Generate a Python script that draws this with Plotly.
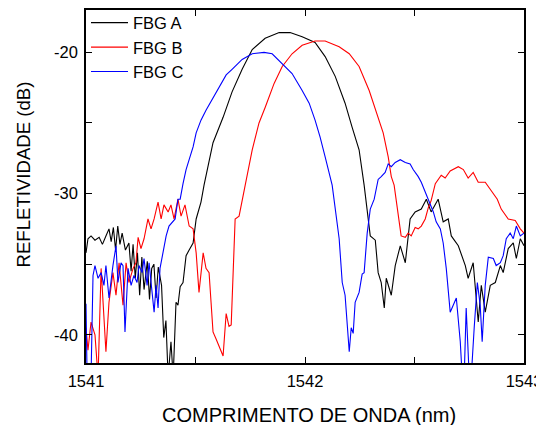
import plotly.graph_objects as go

# ---- data (wavelength in nm, reflectivity in dB) ----
wl_a = [1541.000, 1541.009, 1541.023, 1541.041, 1541.060, 1541.075, 1541.091, 1541.105, 1541.115, 1541.125,
        1541.135, 1541.145, 1541.155, 1541.165, 1541.180, 1541.196, 1541.206, 1541.215, 1541.225, 1541.235,
        1541.245, 1541.255, 1541.265, 1541.280, 1541.290, 1541.300, 1541.310, 1541.320, 1541.330, 1541.345,
        1541.355, 1541.365, 1541.375, 1541.388, 1541.398, 1541.411, 1541.420, 1541.430, 1541.443, 1541.457,
        1541.471, 1541.489, 1541.503, 1541.525, 1541.539, 1541.580, 1541.626, 1541.667, 1541.713, 1541.759,
        1541.818, 1541.882, 1541.932, 1541.987, 1542.046, 1542.092, 1542.138, 1542.183, 1542.215, 1542.247,
        1542.270, 1542.298, 1542.321, 1542.334, 1542.348, 1542.362, 1542.371, 1542.394, 1542.412, 1542.435,
        1542.458, 1542.480, 1542.503, 1542.531, 1542.554, 1542.576, 1542.608, 1542.631, 1542.654, 1542.668,
        1542.700, 1542.732, 1542.745, 1542.768, 1542.791, 1542.805, 1542.823, 1542.846, 1542.869, 1542.892,
        1542.905, 1542.928, 1542.951, 1542.965, 1542.983, 1543.000]
db_a = [-34.2, -33.2, -33.0, -33.3, -33.1, -33.6, -33.0, -32.5, -33.4, -32.4,
        -34.0, -32.3, -33.6, -32.8, -34.0, -33.5, -35.5, -33.6, -36.0, -34.2,
        -37.2, -34.5, -36.8, -34.8, -37.5, -35.3, -35.0, -37.4, -35.2, -36.5,
        -40.2, -39.0, -43.0, -40.5, -43.0, -37.7, -37.9, -36.6, -36.3, -34.4,
        -34.0, -33.5, -31.8, -30.6, -29.4, -26.4, -24.6, -22.8, -21.2, -19.8,
        -19.0, -18.6, -18.6, -18.9, -19.3, -20.3, -21.7, -23.6, -25.3, -26.9,
        -29.4, -33.0, -33.3, -35.6, -36.3, -38.1, -36.0, -37.2, -35.1, -33.7,
        -34.9, -31.8, -31.3, -31.1, -30.4, -31.3, -30.4, -32.0, -31.8, -33.0,
        -33.7, -35.1, -36.0, -34.9, -39.1, -36.5, -38.4, -36.5, -36.3, -35.1,
        -35.6, -33.9, -33.5, -34.6, -33.2, -33.7]

wl_b = [1541.000, 1541.009, 1541.023, 1541.041, 1541.055, 1541.069, 1541.091, 1541.105, 1541.123, 1541.137,
        1541.151, 1541.169, 1541.183, 1541.196, 1541.215, 1541.228, 1541.238, 1541.251, 1541.265, 1541.283,
        1541.297, 1541.311, 1541.329, 1541.343, 1541.356, 1541.375, 1541.388, 1541.402, 1541.420, 1541.434,
        1541.452, 1541.471, 1541.489, 1541.503, 1541.516, 1541.535, 1541.548, 1541.562, 1541.571, 1541.580,
        1541.594, 1541.608, 1541.626, 1541.640, 1541.653, 1541.663, 1541.672, 1541.681, 1541.699, 1541.713,
        1541.727, 1541.759, 1541.790, 1541.818, 1541.859, 1541.896, 1541.941, 1541.987, 1542.046, 1542.092,
        1542.156, 1542.202, 1542.247, 1542.293, 1542.334, 1542.357, 1542.380, 1542.394, 1542.407, 1542.426,
        1542.439, 1542.458, 1542.471, 1542.485, 1542.503, 1542.517, 1542.531, 1542.549, 1542.563, 1542.576,
        1542.595, 1542.622, 1542.640, 1542.663, 1542.700, 1542.723, 1542.745, 1542.768, 1542.791, 1542.823,
        1542.855, 1542.878, 1542.896, 1542.928, 1542.960, 1542.983, 1543.000]
db_b = [-39.5, -41.1, -39.1, -40.0, -43.0, -35.3, -41.2, -37.7, -35.6, -37.2,
        -34.9, -37.9, -34.9, -36.3, -35.3, -34.9, -33.1, -33.9, -33.2, -31.8,
        -32.5, -31.8, -30.6, -31.8, -30.8, -31.3, -30.8, -31.8, -30.4, -31.6,
        -30.8, -32.3, -32.5, -34.2, -37.0, -34.2, -35.3, -35.6, -37.7, -39.8,
        -40.3, -40.8, -41.5, -38.5, -39.4, -39.3, -36.0, -31.8, -31.6, -30.6,
        -29.4, -26.9, -25.0, -23.9, -22.2, -21.0, -20.1, -19.5, -19.2, -19.2,
        -19.6, -20.1, -21.0, -22.7, -24.6, -25.7, -27.4, -28.8, -29.4, -31.6,
        -33.0, -33.1, -32.8, -33.0, -32.4, -32.5, -32.3, -31.8, -31.0, -30.5,
        -29.3, -28.7, -28.9, -28.4, -28.1, -28.3, -28.9, -28.5, -29.2, -29.2,
        -29.9, -30.4, -31.1, -31.8, -31.9, -32.5, -32.8]

wl_c = [1541.000, 1541.005, 1541.023, 1541.032, 1541.041, 1541.055, 1541.069, 1541.082, 1541.091, 1541.105,
        1541.123, 1541.137, 1541.146, 1541.160, 1541.169, 1541.178, 1541.192, 1541.206, 1541.219, 1541.233,
        1541.242, 1541.256, 1541.265, 1541.279, 1541.288, 1541.302, 1541.311, 1541.320, 1541.329, 1541.338,
        1541.352, 1541.366, 1541.379, 1541.398, 1541.407, 1541.420, 1541.430, 1541.443, 1541.457, 1541.471,
        1541.489, 1541.503, 1541.525, 1541.548, 1541.580, 1541.608, 1541.640, 1541.667, 1541.713, 1541.759,
        1541.813, 1541.850, 1541.896, 1541.941, 1541.987, 1542.019, 1542.046, 1542.069, 1542.092, 1542.110,
        1542.124, 1542.156, 1542.170, 1542.183, 1542.202, 1542.211, 1542.220, 1542.229, 1542.247, 1542.261,
        1542.270, 1542.284, 1542.298, 1542.316, 1542.334, 1542.348, 1542.366, 1542.380, 1542.394, 1542.412,
        1542.435, 1542.458, 1542.480, 1542.494, 1542.517, 1542.531, 1542.563, 1542.586, 1542.599, 1542.618,
        1542.631, 1542.645, 1542.663, 1542.677, 1542.691, 1542.709, 1542.718, 1542.727, 1542.736, 1542.750,
        1542.759, 1542.773, 1542.787, 1542.800, 1542.809, 1542.823, 1542.837, 1542.860, 1542.873, 1542.892,
        1542.905, 1542.919, 1542.937, 1542.951, 1542.965, 1542.983, 1543.000]
db_c = [-37.8, -43.0, -43.0, -35.8, -35.1, -36.0, -35.6, -36.5, -35.1, -37.4,
        -35.1, -33.7, -36.3, -34.9, -35.1, -39.8, -35.3, -36.5, -35.8, -36.3,
        -35.1, -35.6, -34.6, -36.5, -34.9, -37.0, -38.4, -36.5, -38.1, -35.3,
        -34.2, -33.0, -32.3, -32.0, -31.8, -30.4, -30.4, -29.3, -28.3, -27.6,
        -26.7, -25.7, -24.8, -24.1, -23.2, -22.5, -21.6, -21.2, -20.5, -20.1,
        -20.0, -20.1, -20.8, -21.5, -22.7, -23.6, -24.8, -26.0, -27.4, -28.5,
        -29.4, -33.2, -36.3, -37.2, -41.2, -39.5, -39.9, -37.7, -37.0, -35.7,
        -35.6, -32.8, -31.1, -30.4, -29.0, -28.8, -28.5, -27.9, -28.1, -27.8,
        -27.6, -27.8, -27.9, -28.3, -28.8, -29.2, -30.4, -31.3, -32.0, -32.5,
        -33.5, -35.3, -38.4, -37.9, -37.4, -40.5, -43.0, -43.0, -38.1, -43.0,
        -43.0, -39.4, -36.3, -37.9, -40.5, -36.5, -34.5, -34.6, -35.1, -34.9,
        -34.4, -33.2, -32.8, -33.2, -32.3, -33.0, -32.8]

names = ["FBG A", "FBG B", "FBG C"]
colors = ["#000000", "#ff0000", "#0000ff"]

x_ticks = [1541, 1542, 1543]
y_ticks = [-40, -30, -20]
x_title = "COMPRIMENTO DE ONDA (nm)"
y_title = "REFLETIVIDADE (dB)"

font_family = "Arial, Liberation Sans, sans-serif"

fig = go.Figure()
for wl, db, name, col in zip([wl_a, wl_b, wl_c], [db_a, db_b, db_c], names, colors):
    fig.add_trace(go.Scatter(x=wl, y=db, mode="lines", name=name,
                             line=dict(color=col, width=1.1)))

axis_common = dict(
    showline=True, linecolor="black", linewidth=1.5, mirror="allticks",
    ticks="inside", ticklen=6, tickwidth=1.2, tickcolor="black",
    showgrid=False, zeroline=False,
    tickfont=dict(family=font_family, size=16.5, color="black"),
)

fig.update_xaxes(range=[1541, 1543], tickvals=x_ticks, ticktext=[str(v) for v in x_ticks],
                 minor=dict(ticks="inside", ticklen=6, tickwidth=1.2, tickcolor="black", dtick=0.5),
                 ticklabelstandoff=2,
                 **axis_common)
fig.update_yaxes(range=[-42, -17], tickvals=y_ticks, ticktext=[str(v) for v in y_ticks],
                 minor=dict(ticks="inside", ticklen=6, tickwidth=1.2, tickcolor="black", dtick=5),
                 ticklabelstandoff=3,
                 **axis_common)

fig.add_annotation(text=x_title, xref="paper", yref="paper", x=0.509, y=-0.146,
                   xanchor="center", yanchor="middle", showarrow=False,
                   font=dict(family=font_family, size=20, color="black"))
fig.add_annotation(text=y_title, xref="paper", yref="paper", x=-0.1438, y=0.534,
                   xanchor="center", yanchor="middle", showarrow=False, textangle=-90,
                   font=dict(family=font_family, size=18.6, color="black"))

fig.update_layout(
    width=536, height=417,
    margin=dict(l=78, r=20, t=2, b=62, autoexpand=False),
    paper_bgcolor="white", plot_bgcolor="white",
    showlegend=True,
    legend=dict(x=0.0, y=1.013, xanchor="left", yanchor="top", bgcolor="rgba(0,0,0,0)",
                font=dict(family=font_family, size=16.5, color="black"),
                borderwidth=0, tracegroupgap=0, itemwidth=37),
)

fig.write_html("out.html")
